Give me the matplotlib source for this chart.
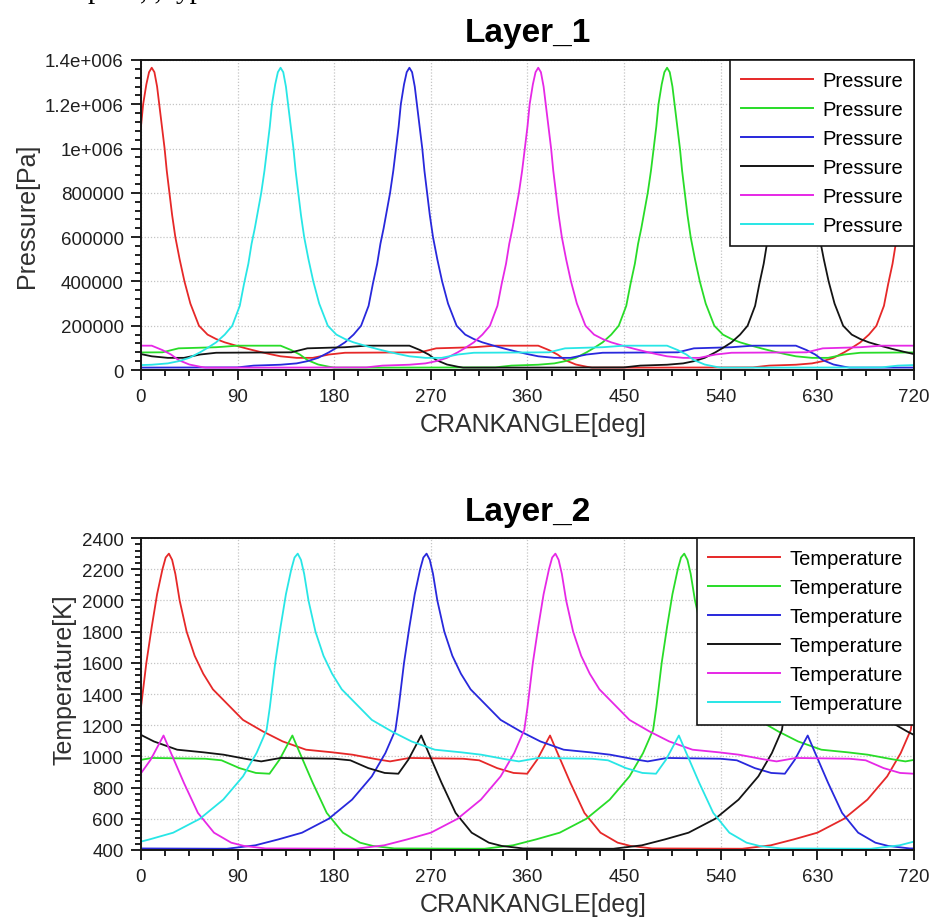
import numpy as np
import matplotlib
matplotlib.use("Agg")
import matplotlib.pyplot as plt
from matplotlib.ticker import MultipleLocator

plt.rcParams['font.family'] = ['Liberation Sans', 'DejaVu Sans']

# ---- data -----------------------------------------------------------------
# cycle of cylinder 1 (red curve), crank angle [deg] -> pressure [Pa]
p_angle = [0, 2, 5, 7.5, 10, 12.5, 15, 17, 19.5, 22, 24, 26.5, 29, 32, 36,
           40.5, 46, 54, 62, 70, 78, 90, 100, 110, 120, 130, 145, 160, 175,
           190, 260, 275, 310, 330, 370, 380, 388, 395, 405, 415, 420, 480,
           570, 585, 610, 625, 635, 645, 655, 662, 670, 678, 685, 692, 696,
           700, 703, 706, 709, 712, 715, 717.5, 720]
p_value = [1100000, 1200000, 1290000, 1345000, 1365000, 1345000, 1280000,
           1200000, 1100000, 1000000, 900000, 800000, 700000, 600000, 500000,
           400000, 300000, 200000, 160000, 140000, 125000, 108000, 95000,
           83000, 72000, 62000, 55000, 55000, 70000, 78000, 80000, 98000,
           103000, 110000, 110000, 90000, 70000, 45000, 25000, 15000, 11000,
           11000, 12000, 20000, 24000, 30000, 40000, 55000, 80000, 100000,
           125000, 160000, 200000, 290000, 390000, 480000, 570000, 640000,
           720000, 800000, 900000, 1000000, 1100000]

# cycle of cylinder 1 (red curve), crank angle [deg] -> temperature [K]
t_angle = [0, 5, 10, 15, 20, 23, 26, 29, 32, 36, 42.5, 50, 58, 67, 77, 95,
           113.6, 132, 153.7, 178.5, 197, 218.6, 232, 250, 300, 315, 331.7,
           347, 359.7, 369, 376, 381, 388, 400, 413, 428, 444, 456, 476, 560,
           586.5, 608, 630, 654.8, 676.6, 695, 707.6, 717, 720]
t_value = [1315, 1600, 1830, 2040, 2200, 2275, 2300, 2260, 2170, 2000, 1800,
           1645, 1530, 1430, 1360, 1234, 1160, 1096, 1043, 1026, 1011, 983,
           968, 990, 985, 975, 925, 894, 889, 979, 1070, 1134, 1021, 830, 638,
           511, 447, 426, 410, 408, 430, 468, 511, 600, 723, 872, 1021, 1170,
           1315]

# crank-angle shift of each cylinder's cycle (from its peak position)
firing_offsets = [0, 480, 240, 600, 360, 120]
series_colors = ['#e62828', '#28dc28', '#2828dc', '#141414', '#e628e6', '#28e6e6']
p_labels = ['Pressure'] * 6
t_labels = ['Temperature'] * 6

x_ticks = [0, 90, 180, 270, 360, 450, 540, 630, 720]
p_ticks = [0, 200000, 400000, 600000, 800000, 1000000, 1200000, 1400000]
p_tick_labels = ['0', '200000', '400000', '600000', '800000', '1e+006',
                 '1.2e+006', '1.4e+006']
t_ticks = [400, 600, 800, 1000, 1200, 1400, 1600, 1800, 2000, 2200, 2400]
t_tick_labels = [str(v) for v in t_ticks]


def shifted_cycle(angle, value, offset):
    a = (np.asarray(angle[:-1], dtype=float) + offset) % 720
    v = np.asarray(value[:-1], dtype=float)
    order = np.argsort(a)
    a, v = a[order], v[order]
    return np.concatenate([a - 720, a, a + 720]), np.tile(v, 3)


fig = plt.figure(figsize=(9.3, 9.2), dpi=100)
ax1 = fig.add_axes([0.1516, 0.5967, 0.8312, 0.337])
ax2 = fig.add_axes([0.1516, 0.0750, 0.8312, 0.3391])


def style(ax, yticks, ylabels, ylim, yminor, ylabel, title, ylab_x, ylab_y, tpad):
    ax.set_xlim(0, 720)
    ax.set_ylim(*ylim)
    ax.set_xticks(x_ticks)
    ax.set_xticklabels([str(v) for v in x_ticks])
    ax.set_yticks(yticks)
    ax.set_yticklabels(ylabels)
    ax.xaxis.set_minor_locator(MultipleLocator(22.5))
    ax.yaxis.set_minor_locator(MultipleLocator(yminor))
    ax.tick_params(axis='both', which='major', direction='out', length=7.5,
                   width=1.4, labelsize=13.5, color='#202020', labelcolor='#202020')
    ax.tick_params(axis='x', which='major', pad=5.5)
    ax.tick_params(axis='y', which='major', pad=5)
    ax.tick_params(axis='x', which='minor', direction='out', length=4, width=1.4,
                   color='#202020')
    ax.tick_params(axis='y', which='minor', direction='out', length=4.3, width=1.4,
                   color='#202020')
    for s in ax.spines.values():
        s.set_linewidth(1.4)
        s.set_color('#151515')
    ax.grid(True, which='major', linestyle=(0, (1, 1.5)), color='#c4c4c4',
            linewidth=0.9)
    ax.set_axisbelow(True)
    ax.set_xlabel('CRANKANGLE[deg]', fontsize=18, color='#303030')
    ax.xaxis.set_label_coords(0.507, -0.135)
    ax.set_ylabel(ylabel, fontsize=18, color='#303030')
    ax.yaxis.set_label_coords(ylab_x, ylab_y)
    ax.set_title(title, fontsize=24, fontweight='bold', pad=tpad)


for off, col, lab in zip(firing_offsets, series_colors, p_labels):
    x, y = shifted_cycle(p_angle, p_value, off)
    ax1.plot(x, y, color=col, lw=1.3, label=lab)
for off, col, lab in zip(firing_offsets, series_colors, t_labels):
    x, y = shifted_cycle(t_angle, t_value, off)
    ax2.plot(x, y, color=col, lw=1.3, label=lab)

style(ax1, p_ticks, p_tick_labels, (0, 1400000), 40000, 'Pressure[Pa]',
      'Layer_1', -0.132, 0.5, 14)
style(ax2, t_ticks, t_tick_labels, (400, 2400), 40, 'Temperature[K]',
      'Layer_2', -0.084, 0.55, 13)

for ax in (ax1, ax2):
    leg = ax.legend(loc='upper right', bbox_to_anchor=(1, 1), borderaxespad=0,
                    fontsize=14.5, frameon=True, fancybox=False,
                    handlelength=3.6, handletextpad=0.45, labelspacing=0.5,
                    borderpad=0.55)
    fr = leg.get_frame()
    fr.set_edgecolor('#151515')
    fr.set_linewidth(1.2)
    fr.set_alpha(1)
    for line in leg.get_lines():
        line.set_linewidth(1.4)

# clipped fragment of the document text above the figure
fig.text(88 / 930, 1 + 2 / 920, 'р', family=['Liberation Serif'], fontsize=21,
         va='baseline', ha='left')
fig.text(140 / 930, 1 + 2 / 920, ', ,', family=['Liberation Serif'], fontsize=21,
         va='baseline', ha='left')
fig.text(176 / 930, 1 + 2 / 920, 'ур', family=['Liberation Serif'], fontsize=21,
         va='baseline', ha='left')

fig.savefig('out.png', dpi=100)
